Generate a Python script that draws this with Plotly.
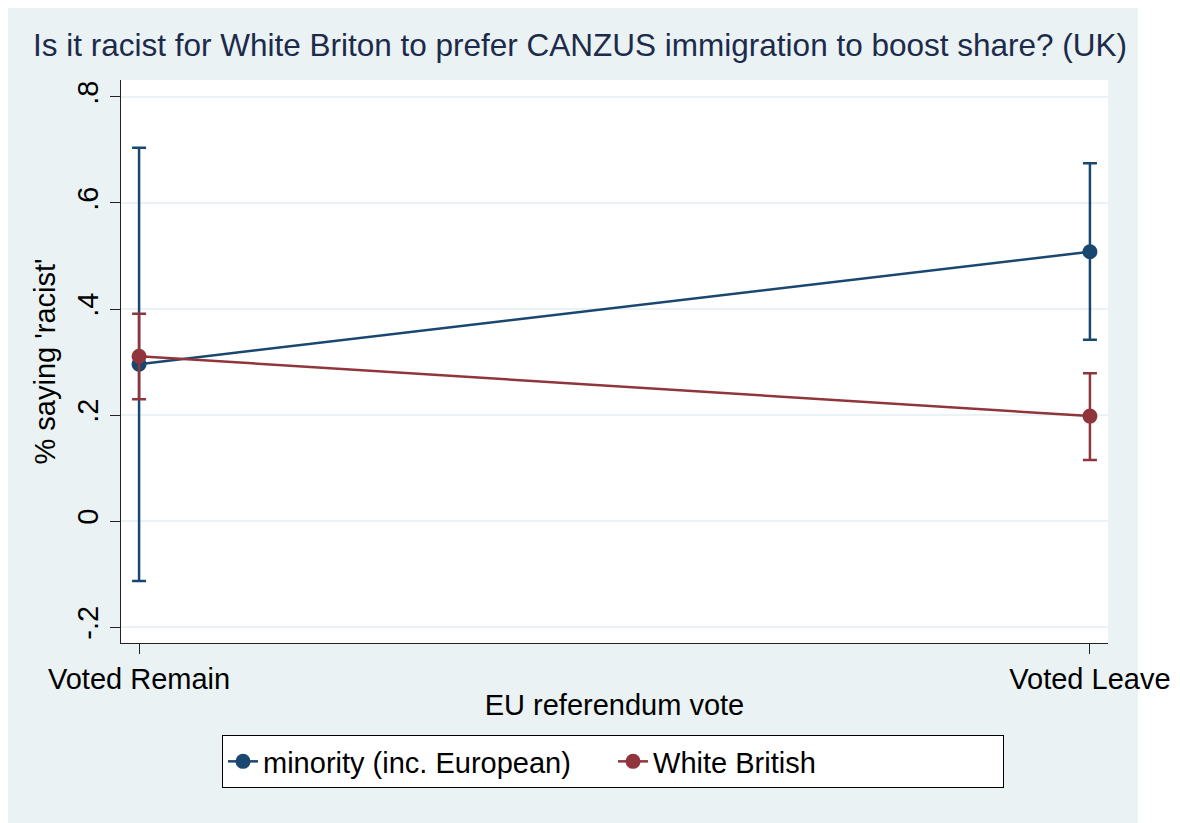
import plotly.graph_objects as go

categories = ["Voted Remain", "Voted Leave"]

minority_mean = [0.296, 0.508]
minority_lo = [-0.113, 0.342]
minority_hi = [0.704, 0.675]

white_mean = [0.311, 0.198]
white_lo = [0.230, 0.115]
white_hi = [0.391, 0.279]

y_ticks = [-0.2, 0, 0.2, 0.4, 0.6, 0.8]
y_ticktext = ["-.2", "0", ".2", ".4", ".6", ".8"]

NAVY = "#1a476f"
MAROON = "#90353b"
BG = "#EAF2F3"
FONT = "Liberation Sans, Arial, sans-serif"


def trace(name, mean, lo, hi, color):
    return go.Scatter(
        x=categories, y=mean, name=name, mode="lines+markers",
        line=dict(color=color, width=2.5),
        marker=dict(color=color, size=15),
        error_y=dict(type="data", symmetric=False,
                     array=[h - m for h, m in zip(hi, mean)],
                     arrayminus=[m - l for m, l in zip(mean, lo)],
                     color=color, thickness=2.5, width=7),
    )


fig = go.Figure()
fig.add_trace(trace("minority (inc. European)", minority_mean, minority_lo, minority_hi, NAVY))
fig.add_trace(trace("White British", white_mean, white_lo, white_hi, MAROON))

W, H = 1172, 815
fig.update_layout(
    width=W, height=H,
    margin=dict(l=113, r=72, t=72, b=180, autoexpand=False),
    paper_bgcolor=BG, plot_bgcolor="white",
    font=dict(family=FONT, size=29, color="black"),
    title=dict(text="Is it racist for White Briton to prefer CANZUS immigration to boost share? (UK)",
               xref="container", x=(580 - 8) / W, xanchor="center",
               yref="container", y=1 - (45 - 8) / H, yanchor="middle",
               font=dict(size=31.5, color="#1C2B4B", family=FONT)),
    showlegend=True,
    legend=dict(orientation="h", x=0.4985, xanchor="center", xref="paper",
                y=-0.1634, yanchor="top", yref="paper",
                bgcolor="white", bordercolor="black", borderwidth=1,
                font=dict(size=29, color="black"),
                entrywidth=345, entrywidthmode="pixels", itemwidth=30),
    shapes=[
        dict(type="rect", xref="paper", yref="paper",
             x0=(1138 - 121) / 987, x1=1.2, y0=-0.5, y1=1.3,
             fillcolor="white", line=dict(width=0), layer="below"),
    ],
)

fig.update_xaxes(
    type="category", range=[-0.019, 1.019], automargin=False,
    showgrid=False, zeroline=False,
    showline=True, linecolor="#222222", linewidth=1,
    ticks="outside", ticklen=10, tickcolor="#222222", tickwidth=1,
    tickfont=dict(size=29),
    title=dict(text="EU referendum vote", font=dict(size=29), standoff=0),
)
fig.update_yaxes(
    range=[-0.230, 0.832], automargin=False,
    tickvals=y_ticks, ticktext=y_ticktext, tickangle=-90,
    showgrid=True, gridcolor=BG, gridwidth=2,
    zeroline=False,
    showline=True, linecolor="#222222", linewidth=1,
    ticks="outside", ticklen=10, tickcolor="#222222", tickwidth=1,
    tickfont=dict(size=29),
    title=dict(text="% saying 'racist'", font=dict(size=29), standoff=8),
)

fig.write_html("out.html")
